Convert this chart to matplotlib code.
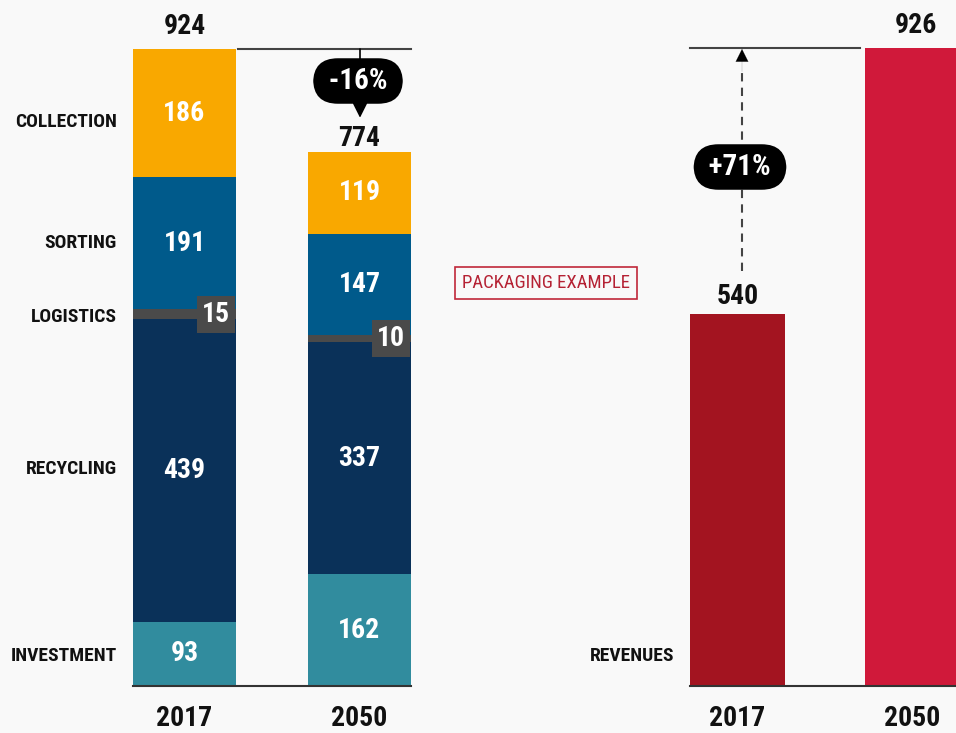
import matplotlib.pyplot as plt
from matplotlib import font_manager

# ---- data ----
categories = ["INVESTMENT", "RECYCLING", "LOGISTICS", "SORTING", "COLLECTION"]
costs_2017 = [93, 439, 15, 191, 186]
costs_2050 = [162, 337, 10, 147, 119]
cost_totals = [924, 774]
cost_change = "-16%"
years = ["2017", "2050"]
revenues = [540, 926]
revenue_change = "+71%"

colors = ["#318c9e", "#0a3159", "#4a4a4a", "#005a8b", "#f9a800"]
rev_colors = ["#a31420", "#d0193a"]
bg = "#f9f9f9"

names = {f.name for f in font_manager.fontManager.ttflist}
narrow = "Roboto Condensed" if "Roboto Condensed" in names else "DejaVu Sans"
plt.rcParams['font.family'] = [narrow, 'DejaVu Sans']

fig = plt.figure(figsize=(9.56, 7.33), dpi=100, facecolor=bg)
ax = fig.add_axes([0, 0, 1, 1])
ax.set_facecolor(bg)
ax.set_xlim(0, 956)
scale = 637 / 924  # pixels per unit
ax.set_ylim(-47 / scale, 686 / scale)
ax.axis("off")

cost_x = [184.5, 359.5]
bar_w = 103

# stacked cost bars
for xi, vals in zip(cost_x, [costs_2017, costs_2050]):
    bottom = 0
    for i, v in enumerate(vals):
        ax.bar(xi, v, bar_w, bottom=bottom, color=colors[i], linewidth=0)
        mid = bottom + v / 2
        if categories[i] == "LOGISTICS":
            ax.text(xi + bar_w / 2 - 6, mid, str(v), ha="right", va="center",
                    color="white", fontsize=20, fontweight="bold",
                    bbox=dict(boxstyle="square,pad=0.18", fc=colors[i], ec="none"))
        else:
            ax.text(xi, mid, str(v), ha="center", va="center", color="white",
                    fontsize=20, fontweight="bold")
        bottom += v

# category labels on the left (small pixel nudges to match the source)
nudge_px = [-2, 2, -3, 0, -9]
bottom = 0
for cat, v, dy in zip(categories, costs_2017, nudge_px):
    ax.text(117, bottom + v / 2 + dy / scale, cat, ha="right", va="center",
            fontsize=14, fontweight="bold", color="#111111")
    bottom += v

# totals
ax.text(cost_x[0], cost_totals[0] + 9 / scale, str(cost_totals[0]), ha="center",
        va="bottom", fontsize=20, fontweight="bold", color="#111111")
ax.text(cost_x[1], sum(costs_2050) + 0 / scale, str(cost_totals[1]), ha="center",
        va="bottom", fontsize=20, fontweight="bold", color="#111111")

# baselines
ax.plot([133, 411], [0, 0], color="#333333", lw=1.5)
ax.plot([690, 956], [0, 0], color="#333333", lw=1.5)

pill = dict(boxstyle="round,pad=0.3,rounding_size=0.85", fc="black", ec="none")

# -16% reference
ax.plot([238, 411], [cost_totals[0], cost_totals[0]], color="#444444", lw=1.5)
ax.annotate("", xy=(360, sum(costs_2050) + 34 / scale), xytext=(360, cost_totals[0]),
            arrowprops=dict(arrowstyle="-|>,head_width=0.45,head_length=0.9",
                            color="black", lw=1.2, shrinkA=0, shrinkB=0))
ax.text(358, (686 - 81) / scale, f" {cost_change} ", ha="center", va="center",
        color="white", fontsize=21, fontweight="bold", bbox=pill)

# revenue bars
rev_x = [737.5, 912.5]
rev_w = 95
for xi, v, c in zip(rev_x, revenues, rev_colors):
    ax.bar(xi, v, rev_w, color=c, linewidth=0)
ax.text(rev_x[0], revenues[0] + 4 / scale, str(revenues[0]), ha="center", va="bottom",
        fontsize=20, fontweight="bold", color="#111111")
ax.text(916, revenues[1] + 9 / scale, str(revenues[1]), ha="center", va="bottom",
        fontsize=20, fontweight="bold", color="#111111")
ax.text(674, costs_2017[0] / 2 - 2 / scale, "REVENUES", ha="right", va="center",
        fontsize=14, fontweight="bold", color="#111111")

# +71% reference
ax.plot([690, 860], [revenues[1], revenues[1]], color="#444444", lw=1.5)
ax.plot([742, 742], [revenues[0] + 43 / scale, revenues[1] - 20 / scale],
        color="#444444", lw=1.5, ls=(0, (4, 3)))
ax.annotate("", xy=(742, revenues[1] - 2), xytext=(742, revenues[1] - 24 / scale),
            arrowprops=dict(arrowstyle="-|>,head_width=0.45,head_length=0.9",
                            color="black", lw=0.1, shrinkA=0, shrinkB=0))
ax.text(740, (686 - 167) / scale, f" {revenue_change} ", ha="center", va="center",
        color="white", fontsize=21, fontweight="bold", bbox=pill)

# note box
ax.text(546, (686 - 283) / scale, "PACKAGING EXAMPLE", ha="center", va="center",
        color="#b52234", fontsize=13.5,
        bbox=dict(boxstyle="square,pad=0.35", fc="none", ec="#c0283a", lw=1.2))

# year labels
for xi, yr in zip(cost_x + rev_x, years + years):
    ax.text(xi, -33 / scale, yr, ha="center", va="center", fontsize=20,
            fontweight="bold", color="#111111")

fig.savefig("out.png", dpi=100, facecolor=bg)
